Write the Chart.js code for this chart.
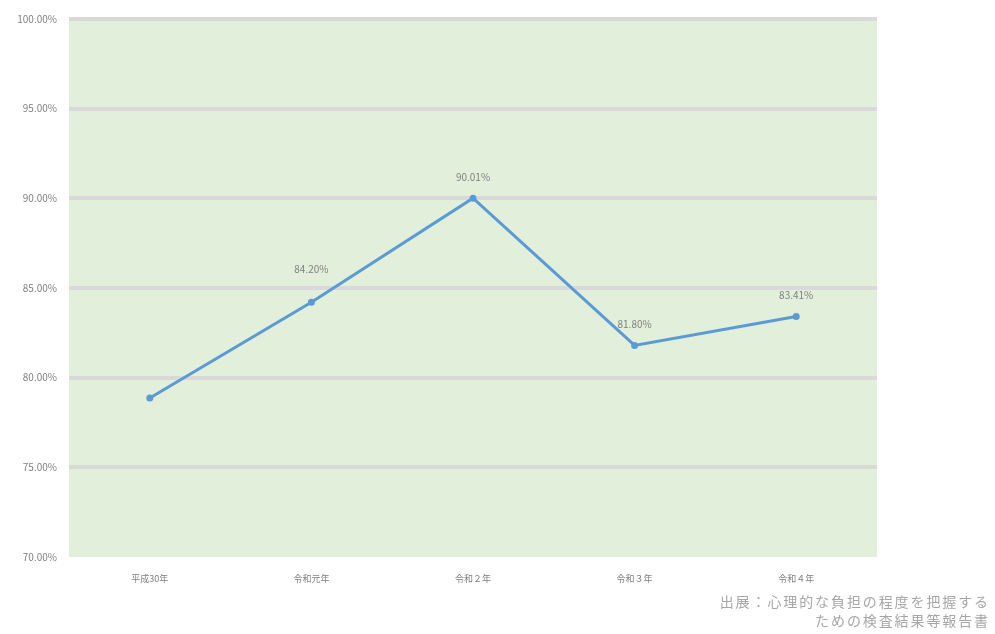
<!DOCTYPE html>
<html>
<head>
<meta charset="utf-8">
<script src="https://cdn.jsdelivr.net/npm/chart.js@4"></script>
<style>
  html, body { margin: 0; padding: 0; background: #fff; }
  #wrap { position: relative; width: 995px; height: 634px; }
  #note { position: absolute; right: 5px; top: 592px; text-align: right;
          font: 14px "Noto Sans CJK JP", sans-serif; color: #a6a6a6; line-height: 19px; letter-spacing: 1.9px; }
</style>
</head>
<body>
<div id="wrap">
  <canvas id="chart" width="995" height="634"></canvas>
  <div id="note">出展：心理的な負担の程度を把握する<br>ための検査結果等報告書</div>
</div>
<script>
var years = ['平成30年', '令和元年', '令和２年', '令和３年', '令和４年'];
var rates = [78.87, 84.20, 90.01, 81.80, 83.41];
var shownLabels = [false, true, true, true, true];

var font = '"Noto Sans CJK JP", sans-serif';

// green plot background
var bgPlugin = {
    id: 'bg',
    beforeDraw: function(chart) {
        var a = chart.chartArea, ctx = chart.ctx;
        ctx.save();
        ctx.fillStyle = '#e2efda';
        ctx.fillRect(a.left, a.top, a.right - a.left, a.bottom - a.top);
        ctx.restore();
    }
};

// value labels above the points
var labelPlugin = {
    id: 'valueLabels',
    afterDatasetsDraw: function(chart) {
        var ctx = chart.ctx;
        var meta = chart.getDatasetMeta(0);
        ctx.save();
        ctx.font = '10px ' + font;
        ctx.fillStyle = '#7f7f7f';
        ctx.textAlign = 'center';
        ctx.textBaseline = 'middle';
        meta.data.forEach(function(pt, i) {
            if (!shownLabels[i]) return;
            // the 84.20% label sits a bit higher in the original
            var dy = i === 1 ? 33 : 21;
            ctx.fillText(rates[i].toFixed(2) + '%', pt.x, pt.y - dy);
        });
        ctx.restore();
    }
};

new Chart(document.getElementById('chart'), {
    type: 'line',
    data: {
        labels: years,
        datasets: [{
            data: rates,
            borderColor: '#5b9bd5',
            backgroundColor: '#5b9bd5',
            borderWidth: 3,
            pointRadius: 2,
            pointHoverRadius: 2,
            tension: 0
        }]
    },
    options: {
        responsive: false,
        animation: false,
        layout: { padding: { top: 19, right: 118, left: 0, bottom: 0 } },
        plugins: { legend: { display: false }, tooltip: { enabled: false } },
        scales: {
            x: {
                offset: true,
                grid: { display: false },
                border: { display: false },
                ticks: { color: '#7f7f7f', font: { size: 9, family: font }, padding: 8 },
                afterFit: function(s) { s.height = 77; }
            },
            y: {
                min: 70,
                max: 100,
                grid: {
                    drawTicks: false,
                    lineWidth: 4,
                    color: function(c) { return c.tick && c.tick.value === 70 ? 'rgba(0,0,0,0)' : '#d9d9d9'; }
                },
                border: { display: false },
                ticks: {
                    stepSize: 5,
                    padding: 12,
                    color: '#7f7f7f',
                    font: { size: 10, family: font },
                    callback: function(v) { return v.toFixed(2) + '%'; }
                },
                afterFit: function(s) { s.width = 69; }
            }
        }
    },
    plugins: [bgPlugin, labelPlugin]
});
</script>
</body>
</html>
